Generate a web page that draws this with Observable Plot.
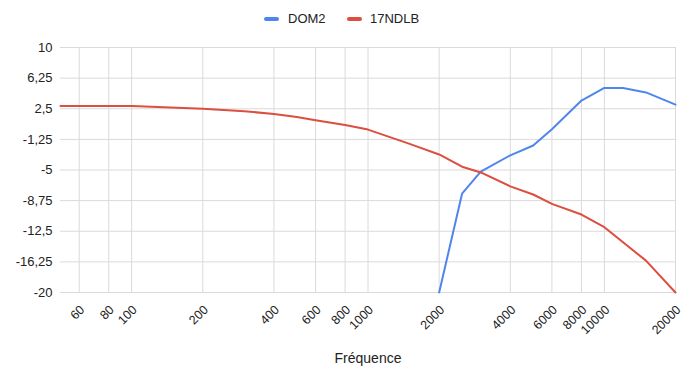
<!DOCTYPE html>
<html>
<head>
<meta charset="utf-8">
<script src="https://cdn.jsdelivr.net/npm/d3@7"></script>
<script src="https://cdn.jsdelivr.net/npm/@observablehq/plot@0.6"></script>
<style>
  html, body { margin: 0; padding: 0; background: #fff; font-family: Arial, "Liberation Sans", sans-serif; }
  #legend { position: relative; height: 34px; width: 699px; font-size: 13px; color: #222; }
  .sw { position: absolute; top: 17px; width: 15px; height: 4px; border-radius: 2px; }
  .lbl { position: absolute; top: 11px; line-height: 15px; white-space: nowrap; }
  svg { display: block; }
</style>
</head>
<body>
<div id="legend"></div>
<div id="chart"></div>
<script>
const seriesNames = ["DOM2", "17NDLB"];
const seriesColors = ["#4f86ec", "#dc4e3f"];

const freqRed = [50, 60, 80, 100, 200, 300, 400, 500, 600, 800, 1000, 1500, 2000, 2500, 3000, 4000, 5000, 6000, 8000, 10000, 15000, 20000];
const valuesRed = [2.85, 2.85, 2.85, 2.85, 2.5, 2.2, 1.85, 1.5, 1.1, 0.5, -0.05, -1.8, -3.1, -4.6, -5.3, -7.0, -8.0, -9.15, -10.45, -12.0, -16.1, -20];

const freqBlue = [2000, 2500, 3000, 4000, 5000, 6000, 8000, 10000, 12000, 15000, 20000];
const valuesBlue = [-20, -7.9, -5.2, -3.2, -2.0, 0.0, 3.5, 5.05, 5.05, 4.5, 3.0];

const xTicks = [60, 80, 100, 200, 400, 600, 800, 1000, 2000, 4000, 6000, 8000, 10000, 20000];
const yTicks = [-20, -16.25, -12.5, -8.75, -5, -1.25, 2.5, 6.25, 10];

const data = [
  ...freqBlue.map((f, i) => ({series: seriesNames[0], f, v: valuesBlue[i]})),
  ...freqRed.map((f, i) => ({series: seriesNames[1], f, v: valuesRed[i]}))
];

// legend (HTML, above the SVG)
const legend = document.getElementById("legend");
const legendPos = [[264, 288], [347, 370]];
seriesNames.forEach((n, i) => {
  const sw = document.createElement("span");
  sw.className = "sw";
  sw.style.left = legendPos[i][0] + "px";
  sw.style.background = seriesColors[i];
  const lb = document.createElement("span");
  lb.className = "lbl";
  lb.style.left = legendPos[i][1] + "px";
  lb.textContent = n;
  legend.appendChild(sw);
  legend.appendChild(lb);
});

const chart = Plot.plot({
  width: 699,
  height: 338,
  marginLeft: 60,
  marginRight: 24,
  marginTop: 13,
  marginBottom: 80,
  style: {fontFamily: "Arial, 'Liberation Sans', sans-serif", fontSize: "13px", color: "#222"},
  x: {type: "log", domain: [50, 20000], axis: null},
  y: {domain: [-20, 10], axis: null},
  color: {domain: seriesNames, range: seriesColors},
  marks: [
    Plot.ruleX(xTicks, {x: d => d, stroke: "#dadada", strokeWidth: 1}),
    Plot.ruleY(yTicks, {y: d => d, stroke: "#dadada", strokeWidth: 1}),
    Plot.text(yTicks, {y: d => d, frameAnchor: "left", textAnchor: "end", dx: -8, fontSize: 13, fill: "#222", text: d => String(d).replace(".", ",")}),
    Plot.text(xTicks, {x: d => d, frameAnchor: "bottom", textAnchor: "end", lineAnchor: "bottom", rotate: -45, dx: 6, dy: 18, fontSize: 12.5, fill: "#222", text: d => String(d)}),
    Plot.line(data, {x: "f", y: "v", z: "series", stroke: "series", strokeWidth: 2}),
    Plot.text(["Fréquence"], {frameAnchor: "bottom", dy: 70, fontSize: 14, fill: "#222", text: d => d})
  ]
});
document.getElementById("chart").appendChild(chart);
</script>
</body>
</html>
